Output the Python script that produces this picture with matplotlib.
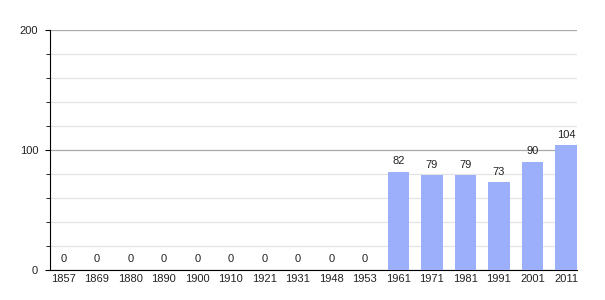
import matplotlib
matplotlib.use("Agg")
import matplotlib.pyplot as plt
from matplotlib.ticker import MultipleLocator

years = ["1857", "1869", "1880", "1890", "1900", "1910", "1921", "1931", "1948", "1953",
         "1961", "1971", "1981", "1991", "2001", "2011"]
population = [0, 0, 0, 0, 0, 0, 0, 0, 0, 0, 82, 79, 79, 73, 90, 104]

plt.rcParams['font.family'] = ['Liberation Sans', 'DejaVu Sans']
fig = plt.figure(figsize=(6.05, 3.0), dpi=100)
ax = fig.add_axes([50/605, 30/300, (577-50)/605, 240/300])

x = list(range(len(years)))
ax.bar(x, population, width=0.64, color='#9caffa', zorder=3)
for xi, v in zip(x, population):
    ax.annotate(str(v), (xi, v), xytext=(0, 4), textcoords='offset points',
                ha='center', va='bottom', fontsize=8, color='#222222')

ax.set_xlim(-0.4, len(years) - 1 + 0.33)
ax.set_ylim(0, 200)
ax.set_xticks(x)
ax.set_xticklabels(years)
ax.yaxis.set_major_locator(MultipleLocator(100))
ax.yaxis.set_minor_locator(MultipleLocator(20))
ax.grid(axis='y', which='major', color='#a8a8a8', linewidth=0.9, zorder=0)
ax.grid(axis='y', which='minor', color='#e4e4e4', linewidth=0.9, zorder=0)
ax.tick_params(axis='x', length=0, labelsize=8, pad=3, labelcolor='#222222')
ax.tick_params(axis='y', which='major', length=3.5, labelsize=8, pad=5, labelcolor='#222222')
ax.tick_params(axis='y', which='minor', length=3)
for s in ['top', 'right']:
    ax.spines[s].set_visible(False)
ax.spines['left'].set_color('black')
ax.spines['bottom'].set_color('black')

fig.savefig("out.png", dpi=100)
